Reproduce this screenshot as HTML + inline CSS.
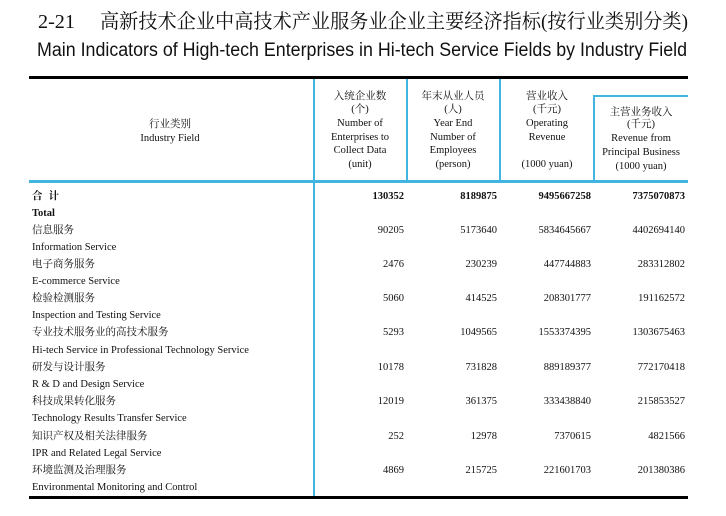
<!DOCTYPE html>
<html><head><meta charset="utf-8"><style>
html,body{margin:0;padding:0;background:#fff;}
svg{display:block;}
.t{font-family:"Liberation Serif","Noto Serif CJK SC",serif;fill:#111;}
.s{font-family:"Liberation Sans","Noto Sans CJK SC",sans-serif;fill:#111;}
</style></head><body>
<svg width="726" height="516" xmlns="http://www.w3.org/2000/svg">
<text class="t" x="38" y="28" font-size="20" textLength="37" lengthAdjust="spacingAndGlyphs">2-21</text>
<text class="t" x="100" y="28" font-size="20" textLength="588" lengthAdjust="spacingAndGlyphs">高新技术企业中高技术产业服务业企业主要经济指标(按行业类别分类)</text>
<text class="s" x="37" y="56" font-size="19" textLength="650" lengthAdjust="spacingAndGlyphs">Main Indicators of High-tech Enterprises in Hi-tech Service Fields by Industry Field</text>
<rect x="29" y="76" width="659" height="3" fill="#000"/>
<rect x="29" y="496" width="659" height="3" fill="#000"/>
<rect x="29" y="180" width="659" height="3" fill="#42b4e0"/>
<rect x="313" y="79" width="2" height="417" fill="#42b4e0"/>
<rect x="406" y="79" width="2" height="101" fill="#42b4e0"/>
<rect x="499" y="79" width="2" height="101" fill="#42b4e0"/>
<rect x="593" y="96" width="2" height="84" fill="#42b4e0"/>
<rect x="593" y="95" width="95" height="2" fill="#42b4e0"/>
<g class="t" font-size="10.5" text-anchor="middle">
<text x="170" y="127">行业类别</text><text x="170" y="141">Industry Field</text>
<text x="360" y="99">入统企业数</text><text x="360" y="112">(个)</text><text x="360" y="126">Number of</text><text x="360" y="140">Enterprises to</text><text x="360" y="153">Collect Data</text><text x="360" y="167">(unit)</text>
<text x="453" y="99">年末从业人员</text><text x="453" y="112">(人)</text><text x="453" y="126">Year End</text><text x="453" y="140">Number of</text><text x="453" y="153">Employees</text><text x="453" y="167">(person)</text>
<text x="547" y="99">营业收入</text><text x="547" y="112">(千元)</text><text x="547" y="126">Operating</text><text x="547" y="140">Revenue</text><text x="547" y="167">(1000 yuan)</text>
<text x="641" y="115">主营业务收入</text><text x="641" y="127">(千元)</text><text x="641" y="141">Revenue from</text><text x="641" y="155">Principal Business</text><text x="641" y="169">(1000 yuan)</text>
</g>
<g class="t" font-size="10.5">
<text x="32" y="199" font-weight="bold" letter-spacing="6">合计</text>
<text x="32" y="216" font-weight="bold">Total</text>
<text x="32" y="233">信息服务</text><text x="32" y="250">Information Service</text>
<text x="32" y="267">电子商务服务</text><text x="32" y="284">E-commerce Service</text>
<text x="32" y="301">检验检测服务</text><text x="32" y="318">Inspection and Testing Service</text>
<text x="32" y="335">专业技术服务业的高技术服务</text><text x="32" y="353">Hi-tech Service in Professional Technology Service</text>
<text x="32" y="370">研发与设计服务</text><text x="32" y="387">R &amp; D and Design Service</text>
<text x="32" y="404">科技成果转化服务</text><text x="32" y="421">Technology Results Transfer Service</text>
<text x="32" y="439">知识产权及相关法律服务</text><text x="32" y="456">IPR and Related Legal Service</text>
<text x="32" y="473">环境监测及治理服务</text><text x="32" y="490">Environmental Monitoring and Control</text>
</g>
<g class="t" font-size="10.5" text-anchor="end">
<g font-weight="bold"><text x="404" y="199">130352</text><text x="497" y="199">8189875</text><text x="591" y="199">9495667258</text><text x="685" y="199">7375070873</text></g>
<text x="404" y="233">90205</text><text x="497" y="233">5173640</text><text x="591" y="233">5834645667</text><text x="685" y="233">4402694140</text>
<text x="404" y="267">2476</text><text x="497" y="267">230239</text><text x="591" y="267">447744883</text><text x="685" y="267">283312802</text>
<text x="404" y="301">5060</text><text x="497" y="301">414525</text><text x="591" y="301">208301777</text><text x="685" y="301">191162572</text>
<text x="404" y="335">5293</text><text x="497" y="335">1049565</text><text x="591" y="335">1553374395</text><text x="685" y="335">1303675463</text>
<text x="404" y="370">10178</text><text x="497" y="370">731828</text><text x="591" y="370">889189377</text><text x="685" y="370">772170418</text>
<text x="404" y="404">12019</text><text x="497" y="404">361375</text><text x="591" y="404">333438840</text><text x="685" y="404">215853527</text>
<text x="404" y="439">252</text><text x="497" y="439">12978</text><text x="591" y="439">7370615</text><text x="685" y="439">4821566</text>
<text x="404" y="473">4869</text><text x="497" y="473">215725</text><text x="591" y="473">221601703</text><text x="685" y="473">201380386</text>
</g>
</svg>
</body></html>
